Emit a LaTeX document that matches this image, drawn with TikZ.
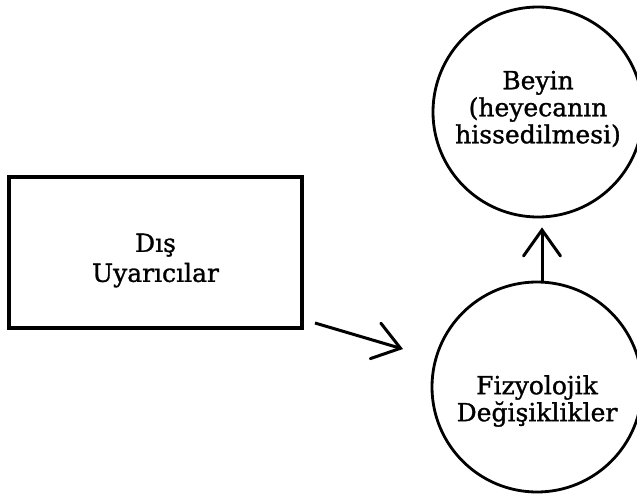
\documentclass[tikz,border=0pt]{standalone}
\usepackage{fontspec}
\setmainfont{DejaVu Serif}[FakeBold=1.2]
\usetikzlibrary{arrows.meta}
\begin{document}
\begin{tikzpicture}[x=1pt,y=-1pt,
  lbl/.style={align=center,inner sep=0pt,font=\fontsize{25}{27}\selectfont},
  boxnode/.style={draw,line width=3.2pt,minimum width=293pt,minimum height=151pt,inner sep=0pt},
  circnode/.style={draw,circle,line width=2.8pt,minimum size=210pt,inner sep=0pt},
  arr/.style={line width=3pt,-{Straight Barb[length=26pt,width=37pt,line cap=round]}}]
\useasboundingbox (0,0) rectangle (637,495);
\node[boxnode] (box) at (155.5,252.5) {};
\node[circnode] (beyin) at (538,112) {};
\node[circnode] (fiz) at (537,387) {};
\node[lbl,font=\fontsize{25}{30}\selectfont] (boxtext) at ([yshift=-8pt]box.center) {Dış\\Uyarıcılar};
\node[lbl] (beyintext) at ([yshift=3pt]beyin.center) {Beyin\\(heyecanın\\hissedilmesi)};
\node[lbl] (fiztext) at ([yshift=-14pt]fiz.center) {Fizyolojik\\Değişiklikler};
\coordinate (d1) at (315,323);
\coordinate (d2) at (403,349);
\draw[arr] ([xshift=5pt]fiz.north) -- ([xshift=4pt,yshift=-9pt]beyin.south);
\draw[arr] (d1) -- (d2);
\end{tikzpicture}
\end{document}
